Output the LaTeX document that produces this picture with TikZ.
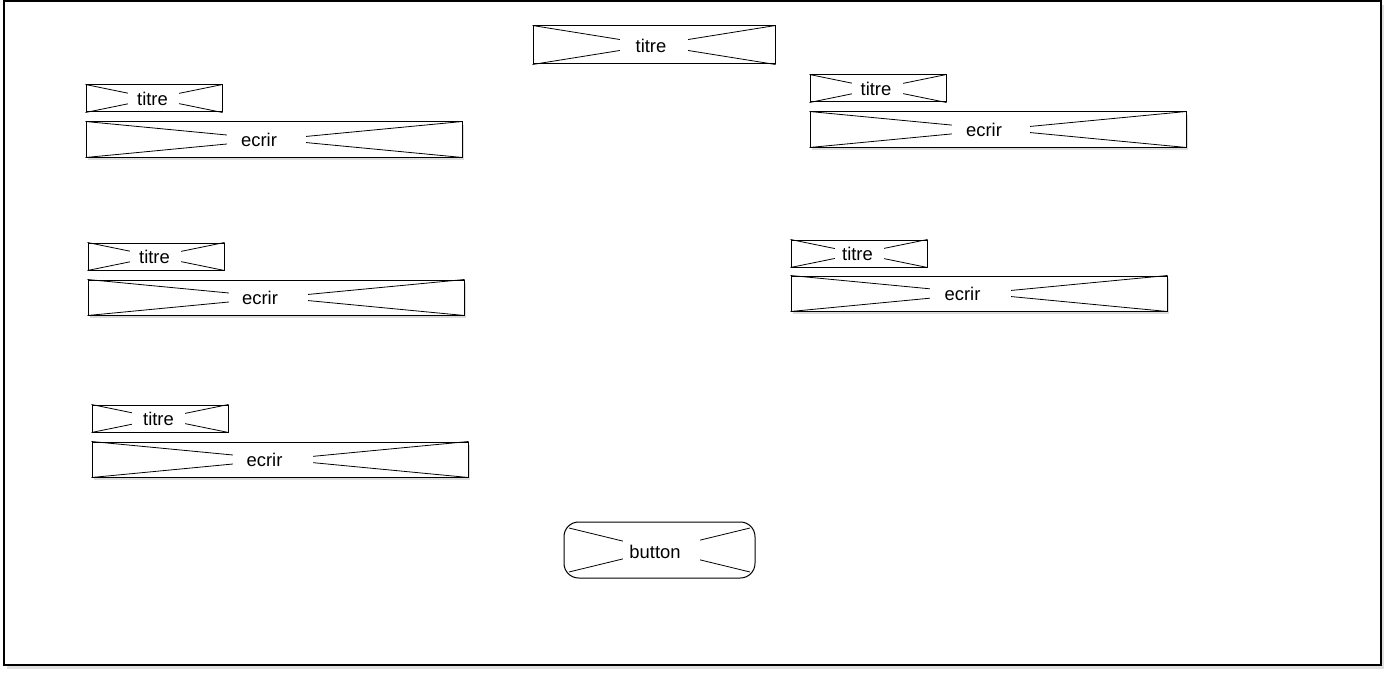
\documentclass[tikz,border=0pt]{standalone}
\usepackage{fontspec}
\setmainfont{Liberation Sans}
\usetikzlibrary{fit,shadows}
\tikzset{
  frame/.style={draw=black, line width=1pt, fill=white, inner sep=0pt,
    drop shadow={shadow xshift=2.5pt, shadow yshift=-3pt, opacity=0.25}},
  wire/.style={draw=black, line width=0.75pt, fill=white, inner sep=0pt},
  wireshadow/.style={wire, drop shadow={shadow xshift=1.2pt, shadow yshift=-2pt, opacity=0.28}},
  cross/.style={line width=0.6pt, black},
  gapfill/.style={fill=white, inner sep=0pt},
  lbl/.style={font=\fontsize{13.8}{16}\selectfont, inner sep=0pt, text=black},
}
% #1 name, #2 style, #3 x1, #4 y1, #5 x2, #6 y2, #7 gap left, #8 gap right
\newcommand\wirebox[8]{%
  \node[#2, fit={(#3,#4)(#5,#6)}] (#1) {};
  \draw[cross] (#1.north west) -- (#1.south east);
  \draw[cross] (#1.south west) -- (#1.north east);
  \node[gapfill, fit={(#7,#4+3)(#8,#6-3)}] (#1-gap) {};
}
\begin{document}
\begin{tikzpicture}[x=0.75pt, y=-0.75pt]
\useasboundingbox (0,0) rectangle (1386,674);
\node[frame, fit={(4,1)(1381,665)}] (page) {};

% top title
\wirebox{top}{wire}{533}{26}{775}{64}{620}{688}
\node[lbl] (top-t) at (651,46) {titre};

% left group 1
\wirebox{l1t}{wire}{86}{85}{222}{112}{128}{179}
\node[lbl] (l1t-t) at (152.5,98.5) {titre};
\wirebox{l1e}{wireshadow}{86}{122}{462}{157}{227}{306}
\node[lbl] (l1e-t) at (259,139.5) {ecrir};

% left group 2
\wirebox{l2t}{wire}{88}{243}{224}{270}{130}{181}
\node[lbl] (l2t-t) at (154.5,257) {titre};
\wirebox{l2e}{wireshadow}{88}{280}{464}{315}{229}{308}
\node[lbl] (l2e-t) at (260,297.5) {ecrir};

% left group 3
\wirebox{l3t}{wire}{92}{405}{228}{432}{132}{185}
\node[lbl] (l3t-t) at (158.5,419) {titre};
\wirebox{l3e}{wireshadow}{92}{442}{468}{477}{233}{313}
\node[lbl] (l3e-t) at (264.5,460) {ecrir};

% right group 1
\wirebox{r1t}{wire}{810}{75}{946}{102}{852}{903}
\node[lbl] (r1t-t) at (876,89) {titre};
\wirebox{r1e}{wireshadow}{810}{112}{1186}{147}{952}{1030}
\node[lbl] (r1e-t) at (984,130) {ecrir};

% right group 2
\wirebox{r2t}{wire}{791}{240}{927}{267}{835}{884}
\node[lbl] (r2t-t) at (857.5,254) {titre};
\wirebox{r2e}{wireshadow}{791}{276}{1167}{311}{930}{1011}
\node[lbl] (r2e-t) at (962.5,294) {ecrir};

% button
\node[wire, rounded corners=11pt, fit={(564,522)(755,578)}] (btn) {};
\coordinate (btn-a) at (569,528);
\coordinate (btn-b) at (750,572);
\coordinate (btn-c) at (569,572);
\coordinate (btn-d) at (750,528);
\draw[cross] (btn-a) -- (btn-b);
\draw[cross] (btn-c) -- (btn-d);
\node[gapfill, fit={(623,527)(700,573)}] (btn-gap) {};
\node[lbl] (btn-t) at (655,552) {button};
\end{tikzpicture}
\end{document}
